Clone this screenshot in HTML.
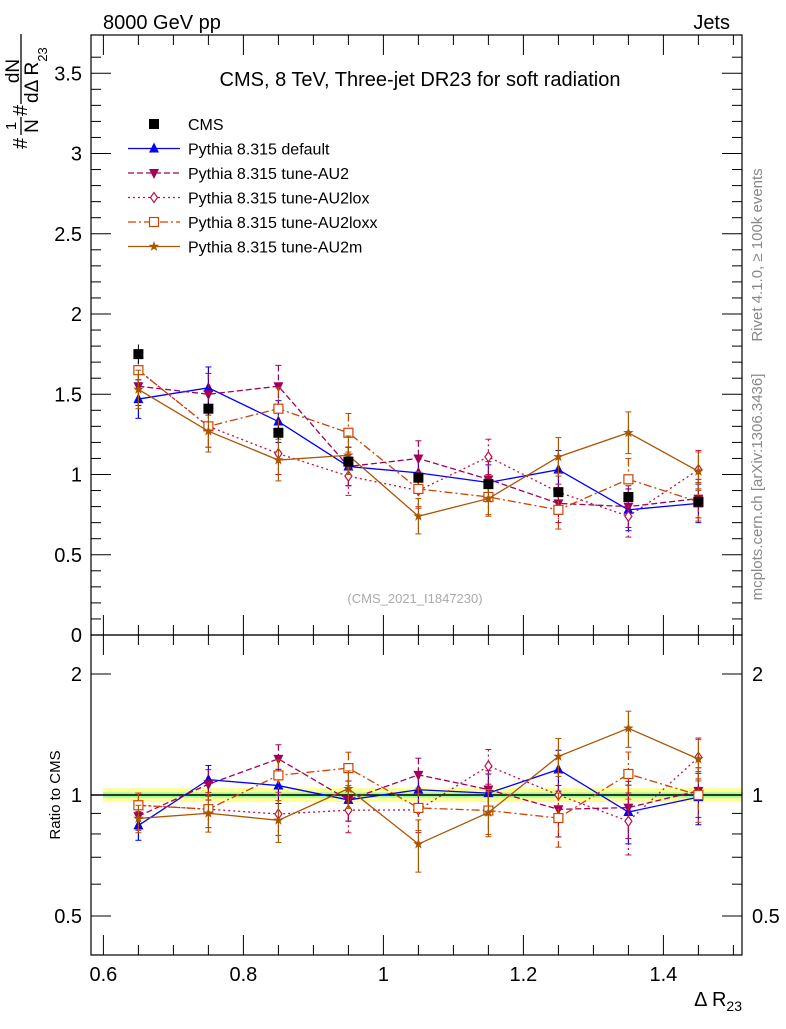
<!DOCTYPE html>
<html><head><meta charset="utf-8"><style>
body{margin:0;background:#fff;}
svg text{font-family:"Liberation Sans",sans-serif;}
</style></head><body>
<svg id="c" width="786" height="1024" viewBox="0 0 786 1024" xmlns="http://www.w3.org/2000/svg">
<text x="103" y="29" font-size="20">8000 GeV pp</text>
<text x="730" y="29" font-size="20" text-anchor="end">Jets</text>
<text x="420" y="86" font-size="20" text-anchor="middle">CMS, 8 TeV, Three-jet DR23 for soft radiation</text>
<text x="415" y="603" font-size="13" fill="#aaa" text-anchor="middle">(CMS_2021_I1847230)</text>
<text transform="translate(762,255) rotate(-90)" font-size="15" fill="#888" text-anchor="middle">Rivet 4.1.0, ≥ 100k events</text>
<text transform="translate(762,487) rotate(-90)" font-size="15" fill="#888" text-anchor="middle">mcplots.cern.ch [arXiv:1306.3436]</text>
<g transform="translate(0,152) rotate(-90)">
<text x="3" y="27" font-size="20">#</text>
<text x="26" y="16" font-size="15" text-anchor="middle">1</text>
<line x1="17" x2="35" y1="21" y2="21" stroke="#000" stroke-width="1.3"/>
<text x="26" y="38" font-size="19" text-anchor="middle">N</text>
<text x="36" y="27" font-size="20">#</text>
<text x="81" y="19" font-size="19" text-anchor="middle">dN</text>
<line x1="48" x2="118" y1="21" y2="21" stroke="#000" stroke-width="1.3"/>
<text x="49" y="38" font-size="19">dΔ R<tspan font-size="13" dy="9">23</tspan></text>
</g>
<text transform="translate(60,795) rotate(-90)" font-size="15" text-anchor="middle">Ratio to CMS</text>
<text x="742" y="1006" font-size="20" text-anchor="end">Δ R<tspan font-size="14" dy="5">23</tspan></text>
<g id="main"></g>
<g id="ratio"></g>
<g id="legend"></g>
</svg>
<script>
const xCenters=[0.65,0.75,0.85,0.95,1.05,1.15,1.25,1.35,1.45];
const cmsVals=[1.75,1.41,1.26,1.08,0.98,0.94,0.89,0.86,0.83];
const cmsErr=[0.06,0.04,0.04,0.03,0.03,0.03,0.03,0.03,0.03];
const defVals=[1.47,1.54,1.33,1.05,1.01,0.95,1.03,0.78,0.82];
const au2Vals=[1.55,1.50,1.55,1.05,1.10,0.97,0.82,0.80,0.85];
const loxVals=[1.65,1.30,1.13,0.99,0.90,1.11,0.89,0.74,1.03];
const loxxVals=[1.65,1.30,1.41,1.26,0.91,0.86,0.78,0.97,0.83];
const au2mVals=[1.53,1.27,1.09,1.12,0.74,0.85,1.11,1.26,1.02];
const mcErr=[0.12,0.13,0.13,0.12,0.11,0.11,0.12,0.13,0.12];
const mainTicks=[0,0.5,1,1.5,2,2.5,3,3.5];
const xTicks=[0.6,0.8,1,1.2,1.4];
const ratioTicks=[0.5,1,2];
const seriesNames=["Pythia 8.315 default","Pythia 8.315 tune-AU2","Pythia 8.315 tune-AU2lox","Pythia 8.315 tune-AU2loxx","Pythia 8.315 tune-AU2m"];

const L=91,R=742,T=35,M=635,B=955;
const X=v=>103.4+(v-0.6)*700;
const Y=v=>635-v*160.5;
const YR=v=>795-Math.log2(v)*121;
const NS="http://www.w3.org/2000/svg";
function mk(tag,attrs,parent){const e=document.createElementNS(NS,tag);for(const k in attrs)e.setAttribute(k,attrs[k]);parent.appendChild(e);return e;}
const main=document.getElementById('main'),ratio=document.getElementById('ratio'),leg=document.getElementById('legend');

let b1=mk('rect',{x:103,y:YR(1.04),width:R-103,height:YR(0.96)-YR(1.04),fill:'#ffff99'},ratio);


let b2=mk('rect',{x:103,y:YR(1.015),width:R-103,height:YR(0.985)-YR(1.015),fill:'#99ff99'},ratio);


let l1=mk('line',{x1:L,x2:R,y1:YR(1),y2:YR(1),stroke:'#000','stroke-width':1.5},ratio);



for(const [y1,y2,g] of [[T,M,main],[M,B,ratio]]){
  const f=mk('rect',{x:L,y:y1,width:R-L,height:y2-y1,fill:'none',stroke:'#000','stroke-width':1.2},g);
  
  
}
for(let v=0;v<=3.7;v+=0.1){const y=Y(v);const maj=Math.abs(v*2-Math.round(v*2))<1e-6;const len=maj?20:10;
  mk('line',{x1:L,x2:L+len,y1:y,y2:y,stroke:'#000'},main);mk('line',{x1:R,x2:R-len,y1:y,y2:y,stroke:'#000'},main);}
mainTicks.forEach(v=>{const t=mk('text',{x:82,y:Y(v)+7,'font-size':20,'text-anchor':'end'},main);t.textContent=v;
  
  });
[0.4,0.5,0.6,0.7,0.8,0.9,1,2].forEach(v=>{const y=YR(v);const maj=ratioTicks.includes(v);const len=maj?20:10;
  mk('line',{x1:L,x2:L+len,y1:y,y2:y,stroke:'#000'},ratio);mk('line',{x1:R,x2:R-len,y1:y,y2:y,stroke:'#000'},ratio);});
ratioTicks.forEach(v=>{for(const [x,a] of [[82,'end'],[752,'start']]){const t=mk('text',{x:x,y:YR(v)+7,'font-size':20,'text-anchor':a},ratio);t.textContent=v;
  
  }});
for(let i=0;i<=19;i++){const v=0.6+i*0.05;const x=X(v);if(x>R)break;const maj=i%4==0;const len=maj?20:10;
  for(const [y0,d] of [[M,-1],[M,1],[B,-1],[T,1]]) mk('line',{x1:x,x2:x,y1:y0,y2:y0+d*len,stroke:'#000'},main);}
xTicks.forEach(v=>{const t=mk('text',{x:X(v),y:981,'font-size':20,'text-anchor':'middle'},main);t.textContent=v;
  
  });

function marker(kind,x,y,col,g){
  const s=5;
  if(kind=='sq') return mk('rect',{x:x-s,y:y-s,width:2*s,height:2*s,fill:'#000'},g);
  if(kind=='tu') return mk('polygon',{points:`${x},${y-s-1} ${x-s},${y+s-1} ${x+s},${y+s-1}`,fill:col},g);
  if(kind=='td') return mk('polygon',{points:`${x},${y+s+1} ${x-s},${y-s+1} ${x+s},${y-s+1}`,fill:col},g);
  if(kind=='di') return mk('polygon',{points:`${x},${y-s} ${x-3.5},${y} ${x},${y+s} ${x+3.5},${y}`,fill:'#fff',stroke:col,'stroke-width':1.2},g);
  if(kind=='os') return mk('rect',{x:x-4.5,y:y-4.5,width:9,height:9,fill:'#fff',stroke:col,'stroke-width':1.2},g);
  if(kind=='st'){let p=[];for(let i=0;i<10;i++){const r=i%2?2.2:5.5,a=-Math.PI/2+i*Math.PI/5;p.push((x+r*Math.cos(a)).toFixed(1)+','+(y+r*Math.sin(a)).toFixed(1));}
    return mk('polygon',{points:p.join(' '),fill:col},g);}
}
const series=[
 {vals:defVals,col:'#0000ff',dash:'',m:'tu',name:'series-default'},
 {vals:au2Vals,col:'#a0005a',dash:'6,3',m:'td',name:'series-au2'},
 {vals:loxVals,col:'#c0104a',dash:'2,3',m:'di',name:'series-au2lox'},
 {vals:loxxVals,col:'#cc4400',dash:'8,3,2,3',m:'os',name:'series-au2loxx'},
 {vals:au2mVals,col:'#aa5500',dash:'',m:'st',name:'series-au2m'}];
series.forEach(s=>{
  for(const [g,fy,rat] of [[main,Y,false],[ratio,YR,true]]){
    const grp=mk('g',{},g);
    
    
    const pts=s.vals.map((v,i)=>[X(xCenters[i]),fy(rat?v/cmsVals[i]:v)]);
    mk('polyline',{points:pts.map(p=>p.join(',')).join(' '),fill:'none',stroke:s.col,'stroke-width':1.3,'stroke-dasharray':s.dash},grp);
    s.vals.forEach((v,i)=>{const x=X(xCenters[i]);const c=rat?v/cmsVals[i]:v;const e=rat?mcErr[i]/cmsVals[i]:mcErr[i];
      mk('line',{x1:x,x2:x,y1:fy(c+e),y2:fy(Math.max(c-e,0.01)),stroke:s.col,'stroke-width':1.2,'stroke-dasharray':s.dash},grp);
      mk('line',{x1:x-3,x2:x+3,y1:fy(c+e),y2:fy(c+e),stroke:s.col},grp);
      mk('line',{x1:x-3,x2:x+3,y1:fy(Math.max(c-e,0.01)),y2:fy(Math.max(c-e,0.01)),stroke:s.col},grp);
      const mm=marker(s.m,pts[i][0],pts[i][1],s.col,grp);
      
      });
  }
});
const cg=mk('g',{},main);


cmsVals.forEach((v,i)=>{const x=X(xCenters[i]);mk('line',{x1:x,x2:x,y1:Y(v+cmsErr[i]),y2:Y(v-cmsErr[i]),stroke:'#000'},cg);
  const mm=marker('sq',x,Y(v),'#000',cg);
  
  });
const ly0=124,ld=24.5;
const cmsE=mk('g',{},leg);


marker('sq',154,ly0,'#000',cmsE);
let tt=mk('text',{x:188,y:ly0+6,'font-size':16},cmsE);tt.textContent='CMS';
series.forEach((s,i)=>{const y=ly0+ld*(i+1);const g=mk('g',{},leg);
  
  
  mk('line',{x1:128,x2:180,y1:y,y2:y,stroke:s.col,'stroke-width':1.3,'stroke-dasharray':s.dash},g);
  marker(s.m,154,y,s.col,g);
  const t=mk('text',{x:188,y:y+6,'font-size':16},g);t.textContent=seriesNames[i];});
</script>
</body></html>
